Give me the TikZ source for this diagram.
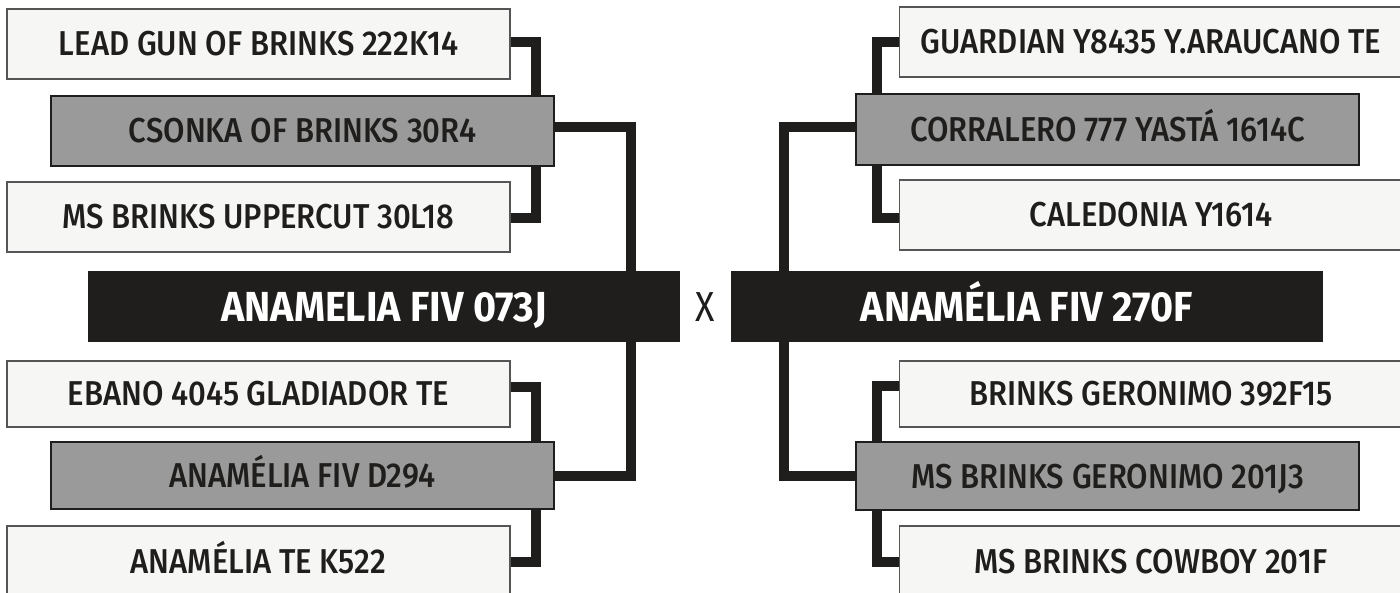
\documentclass[tikz,border=0pt]{standalone}
\usepackage{fontspec}
\setmainfont{Fira Sans}
\newfontfamily\boxfont{Fira Sans Medium}[FakeStretch=0.9]
\newfontfamily\bigfont{Fira Sans Bold}[FakeStretch=0.94]
\newfontfamily\xfont{Fira Sans}[FakeStretch=0.85]
\usetikzlibrary{backgrounds}
\definecolor{ink}{HTML}{1F1E1C}
\definecolor{lightfill}{HTML}{F6F6F4}
\definecolor{grayfill}{HTML}{9A9A9A}
\definecolor{edge}{HTML}{555555}
\begin{document}
\begin{tikzpicture}[x=1pt,y=-1pt,
  box/.style={rectangle, inner sep=0pt, outer sep=0pt, minimum width=503pt,
    minimum height=70pt, line width=1.4pt, text=ink, text height=24pt, text depth=0pt,
    font=\boxfont\fontsize{34.5}{36}\selectfont},
  light/.style={box, fill=lightfill, draw=edge},
  mid/.style={box, fill=grayfill, draw=ink},
  main/.style={rectangle, inner sep=0pt, outer sep=0pt, minimum width=592pt,
    minimum height=71pt, fill=ink, text=white, text height=29pt, text depth=0pt,
    font=\bigfont\fontsize{42}{44}\selectfont},
  conn/.style={draw=ink, line width=10pt},
]
\useasboundingbox (0,0) rectangle (1400,593);
% left side
\node[light] (lg) at (258.5,44) {LEAD GUN OF BRINKS 222K14};
\node[mid] (cs) at (302.5,131) {CSONKA OF BRINKS 30R4};
\node[light] (mu) at (258.5,217) {MS BRINKS UPPERCUT 30L18};
\node[main] (mainL) at (384,307) {ANAMELIA FIV 073J};
\node[light, minimum height=66pt] (eb) at (258.5,394) {EBANO 4045 GLADIADOR TE};
\node[mid, minimum height=67pt] (ad) at (302.5,475.5) {ANAMÉLIA FIV D294};
\node[light] (ak) at (258.5,561) {ANAMÉLIA TE K522};
% middle
\node[text=ink, inner sep=0pt, text height=29pt, text depth=0pt,
  font=\xfont\fontsize{42}{44}\selectfont] (x) at (705.5,307) {X};
% right side
\node[main] (mainR) at (1027,307) {ANAMÉLIA FIV 270F};
\node[light] (gd) at (1151,42) {GUARDIAN Y8435 Y.ARAUCANO TE};
\node[mid, minimum height=71pt] (co) at (1107.5,129.5) {CORRALERO 777 YASTÁ 1614C};
\node[light] (ca) at (1151,215) {CALEDONIA Y1614};
\node[light, minimum height=66pt] (bg) at (1151,394) {BRINKS GERONIMO 392F15};
\node[mid, minimum height=68pt] (mg) at (1107.5,476) {MS BRINKS GERONIMO 201J3};
\node[light] (mc) at (1151,561) {MS BRINKS COWBOY 201F};
% junction columns
\coordinate (jLa) at (536,0);
\coordinate (jLb) at (631,0);
\coordinate (jRa) at (877,0);
\coordinate (jRb) at (784,0);
\begin{scope}[on background layer]
\draw[conn] ([yshift=2pt]lg.east) -| (jLa |- cs.north);
\draw[conn] ([yshift=-1pt]mu.east) -| (jLa |- cs.south);
\draw[conn] ([yshift=3.5pt]cs.east) -| (jLb |- mainL.north);
\draw[conn] ([yshift=7pt]eb.east) -| (jLa |- ad.north);
\draw[conn] ([yshift=-1pt]ak.east) -| (jLa |- ad.south);
\draw[conn] (ad.east) -| (jLb |- mainL.south);
\draw[conn] (gd.west) -| (jRa |- co.north);
\draw[conn] ([yshift=-3pt]ca.west) -| (jRa |- co.south);
\draw[conn] ([yshift=2pt]co.west) -| (jRb |- mainR.north);
\draw[conn] ([yshift=8pt]bg.west) -| (jRa |- mg.north);
\draw[conn] ([yshift=-1pt]mc.west) -| (jRa |- mg.south);
\draw[conn] (mg.west) -| (jRb |- mainR.south);
\end{scope}
\end{tikzpicture}
\end{document}
